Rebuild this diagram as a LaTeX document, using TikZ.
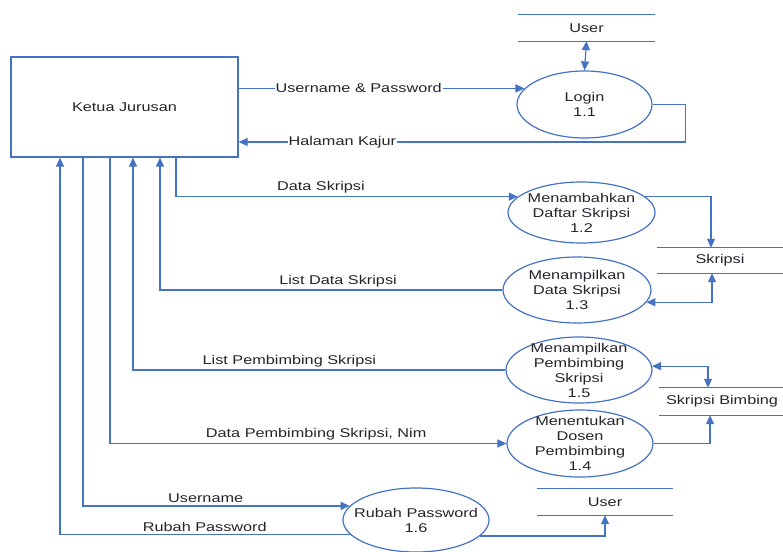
\documentclass[tikz,border=0pt]{standalone}
\usepackage{fontspec}
\setmainfont{Liberation Sans}[FakeStretch=1.28]
\usetikzlibrary{shapes.geometric,arrows.meta,calc}
\definecolor{flowblue}{HTML}{4472C4}
\definecolor{txtgray}{HTML}{25252D}
\begin{document}
\begin{tikzpicture}[x=1pt,y=-1pt,
  every node/.style={text=txtgray, font=\fontsize{12.7}{15}\selectfont},
  conn/.style={draw=flowblue, line width=1.2pt},
  arr/.style={conn, -{Triangle[length=9pt,width=8pt]}},
  arrboth/.style={conn, {Triangle[length=9pt,width=8pt]}-{Triangle[length=9pt,width=8pt]}},
  proc/.style={ellipse, draw=flowblue, line width=1.2pt, inner sep=0pt},
  entity/.style={rectangle, draw=flowblue, line width=1.2pt, inner sep=0pt},
  store/.style={rectangle, inner sep=0pt},
  flowlabel/.style={inner sep=1pt},
  uplabel/.style={flowlabel, above=1.5pt},
  ptext/.style={align=center}
]
\fill[white] (0,0) rectangle (783,551);
\useasboundingbox (0,0) rectangle (783,551);

% entity
\node[entity, minimum width=227pt, minimum height=100pt] (box) at (124.5,107) {Ketua Jurusan};

% processes
\node[proc, minimum width=135pt, minimum height=67pt, label={[ptext]center:{Login\\1.1}}] (login) at (584.5,104.5) {};
\node[proc, minimum width=147pt, minimum height=61pt, label={[ptext]center:{Menambahkan\\Daftar Skripsi\\1.2}}] (p12) at (581.5,212.5) {};
\node[proc, minimum width=148pt, minimum height=66pt, label={[ptext]center:{Menampilkan\\Data Skripsi\\1.3}}] (p13) at (577,290) {};
\node[proc, minimum width=146pt, minimum height=66pt, label={[ptext]center:{Menampilkan\\Pembimbing\\Skripsi\\1.5}}] (p15) at (579,370) {};
\node[proc, minimum width=146pt, minimum height=67pt, label={[ptext]center:{Menentukan\\Dosen\\Pembimbing\\1.4}}] (p14) at (580,443.5) {};
\node[proc, minimum width=146pt, minimum height=64pt, label={[ptext]center:{Rubah Password\\1.6}}] (p16) at (416,520) {};

% data stores
\node[store, minimum width=137pt, minimum height=26pt] (userTop) at (586.5,28) {User};
\node[store, minimum width=126pt, minimum height=25pt] (skripsi) at (720,260.5) {Skripsi};
\node[store, minimum width=125pt, minimum height=27pt] (bimbing) at (722,401.5) {Skripsi Bimbing};
\node[store, minimum width=136pt, minimum height=26pt] (userBot) at (605,502) {User};
\foreach \s in {userTop,skripsi,bimbing,userBot}{
  \draw[conn] (\s.north west) -- (\s.north east) (\s.south west) -- (\s.south east);
}

% flows
\draw[arrboth] (userTop.south) -- (login.north);
\draw[arr] (box.east |- login.165) -- node[flowlabel, fill=white, pos=0.42] {Username \& Password} (login.165);
\draw[arr] (login.east) -- ++(33,0) |- node[flowlabel, fill=white, pos=0.884] {Halaman Kajur} (box.south east |- 0,142);
\draw[arr] (box.south -| 176,0) |- node[uplabel, pos=0.712] {Data Skripsi} (p12.166);
\draw[arr] (p12.14) -| ([xshift=-9pt]skripsi.north);
\draw[arrboth] ([xshift=-8pt]skripsi.south) |- (p13.-10);
\draw[arr] (p13.west) -| node[uplabel, pos=0.24] {List Data Skripsi} (box.south -| 160,0);
\draw[arrboth] (p15.3) -| ([xshift=-14pt]bimbing.north);
\draw[arr] (p15.west) -| node[uplabel, pos=0.29] {List Pembimbing Skripsi} (box.south -| 133,0);
\draw[arr] (box.south -| 110,0) |- node[uplabel, pos=0.76] {Data Pembimbing Skripsi, Nim} (p14.west);
\draw[arr] (p14.east) -| ([xshift=-12pt]bimbing.south);
\draw[arr] (box.south -| 83,0) |- node[uplabel, pos=0.73] {Username} (p16.168);
\draw[arr] (p16.192) -| node[flowlabel, above=0.5pt, pos=0.25] {Rubah Password} (box.south -| 60,0);
\draw[arr] (p16.-14) -| (userBot.south);
\end{tikzpicture}
\end{document}
